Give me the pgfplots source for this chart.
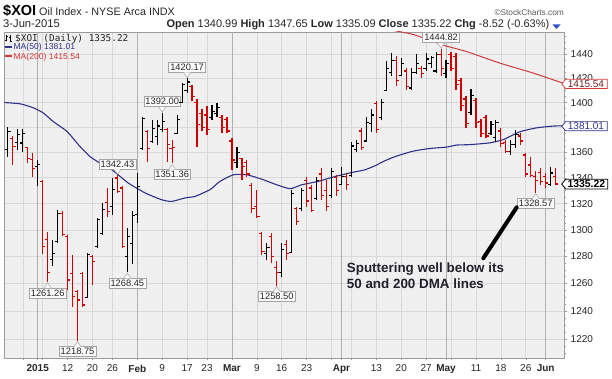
\documentclass[border=0pt]{standalone}
\usepackage{fontspec}
\setmainfont{Liberation Sans}
\newfontfamily\monofont{DejaVu Sans Mono}
\usepackage{pgfplots}
\pgfplotsset{compat=1.18}
\usepackage{pgfplotstable}

\definecolor{bg}{HTML}{F0F0F0}
\definecolor{gridc}{HTML}{D9D9D9}
\definecolor{monthc}{HTML}{B0B0B0}
\definecolor{framec}{HTML}{9C9C9C}
\definecolor{barred}{HTML}{D00000}
\definecolor{manavy}{HTML}{30308A}
\definecolor{mared}{HTML}{D03A3A}
\definecolor{lblborder}{HTML}{A4A4A4}
\definecolor{lblfill}{HTML}{FBFBFB}
\definecolor{txt}{HTML}{262626}
\definecolor{anno}{HTML}{20202E}
\definecolor{chgblue}{HTML}{3050C8}

\newcommand\fs[1]{\fontsize{#1}{#1}\selectfont}

\pgfdeclareplotmark{ltick}{\pgfpathmoveto{\pgfqpoint{-2.7pt}{0pt}}\pgfpathlineto{\pgfqpoint{0pt}{0pt}}\pgfusepathqstroke}
\pgfdeclareplotmark{rtick}{\pgfpathmoveto{\pgfqpoint{0pt}{0pt}}\pgfpathlineto{\pgfqpoint{2.7pt}{0pt}}\pgfusepathqstroke}

% up (black) bars: index, open, high, low, close
\pgfplotstableread{
i o h l c
-6 1362 1380.3 1356.7 1376.6
-4 1367.7 1378.6 1362 1374
-3 1367.4 1378.6 1360.6 1375
0 1348.8 1354 1333.3 1350.2
3 1278 1292.6 1272.6 1282
4 1291.2 1315 1290 1312.6
10 1250 1282.4 1249.3 1281.2
12 1287.5 1308.7 1286 1307.6
13 1297.5 1320.4 1296.2 1315.2
15 1317.8 1339.8 1311.4 1331
18 1280 1301.3 1268.45 1295
19 1290 1314 1274.3 1311
20 1311.4 1343.6 1305 1333
21 1363 1388.4 1362 1387.5
23 1368.6 1386.1 1367.4 1379.3
24 1372.6 1386.1 1366 1381
25 1378 1392 1376.6 1385
28 1375 1390 1374.5 1386
29 1400 1416.2 1399.6 1414.7
30 1410 1420.17 1408 1417
35 1388 1398 1386 1393
36 1391 1399.6 1388.7 1396
40 1352 1364.6 1347.6 1360
46 1282 1290 1277.5 1287
49 1268 1290 1265 1285
51 1283 1330.7 1282.4 1328
53 1316 1332 1314 1330
56 1324 1341 1323 1338
59 1326 1347.5 1324.4 1345
61 1335 1348.8 1334.6 1341
63 1342 1368.6 1341 1365
64 1362 1369.9 1360.6 1367
66 1369 1388.7 1368.6 1384
67 1383 1394.7 1376 1390
69 1388 1403 1386 1400
70 1410 1434 1409.5 1428
71 1425 1441 1422 1435
73 1422 1437 1421.7 1432
75 1412 1428.6 1410.7 1425
76 1425 1440 1423.4 1432
78 1428 1441 1426 1436
79 1432 1438.6 1428.7 1437
80 1426 1442 1424.4 1440
82 1424 1435.5 1420.3 1432
87 1392 1411 1390 1406
91 1375 1384.7 1374 1382
92 1372 1386 1368.6 1384
95 1361 1370 1358 1366
96 1366 1378 1363.3 1374
103 1335 1348.8 1333.3 1343.74
}\upbars

% down (red) bars
\pgfplotstableread{
i o h l c
-5 1371 1373 1350.2 1364.6
-2 1363.8 1364.6 1351.5 1355.4
-1 1354.6 1359.4 1341 1347.5
1 1337 1338.5 1281.8 1287.5
2 1293 1298.7 1261.26 1268
5 1312.6 1314 1295 1296.2
6 1295 1296.2 1255.3 1262.6
7 1267.6 1281.2 1243.2 1250.5
8 1254 1255.3 1218.75 1248
9 1267.6 1268.8 1243.2 1244.4
11 1280 1281.2 1259 1276
14 1321 1332 1310 1314
16 1339.8 1342.43 1328.3 1329.5
17 1332 1333.3 1286 1287.5
22 1376.6 1378 1352.7 1363.3
26 1378 1379.3 1352.7 1366
27 1363.3 1369.6 1351.36 1364
31 1413.3 1414.7 1401 1405
32 1400 1403 1364.6 1382
33 1391 1395 1377 1380
34 1390 1397 1374 1378
37 1388 1390 1375.3 1380
38 1386 1388.7 1375.3 1377
39 1369 1371.4 1346.4 1354
41 1355 1355.4 1338.4 1349
42 1352 1354 1341 1343
43 1334 1336 1312.6 1316
44 1318 1330.7 1308.7 1310
45 1297 1298.7 1281.2 1284
47 1295 1297.5 1275 1280
48 1272 1276.3 1258.5 1268
50 1289 1292.5 1277.5 1282
52 1316 1317.8 1303.8 1306
54 1338 1341 1317.8 1322
55 1332 1334.6 1313.9 1315
57 1343 1347.5 1323 1326
58 1330 1338 1314 1318
60 1340 1342.3 1325.5 1330
62 1341 1343.6 1330.7 1335
65 1377 1379.3 1362 1364
68 1399 1401 1375.3 1378
72 1435 1438.6 1413.4 1418
74 1426 1428.6 1410.7 1413
77 1428 1430 1420.3 1424
81 1440 1444.82 1422 1428
83 1440 1442 1426 1428
84 1438 1441 1410.7 1415
85 1418 1420.3 1393 1398
86 1403 1405.3 1379.6 1383
88 1402 1404 1379.6 1384
89 1385 1387 1372.6 1375
90 1388 1390 1371.3 1373
93 1377 1379.3 1364.6 1367
94 1368 1370 1359.4 1361
97 1373 1375.3 1366 1369
98 1358 1359.4 1341 1343
99 1350 1356.7 1341 1342
100 1341 1345 1328.57 1338
101 1344 1347.6 1334.6 1337
102 1341 1343.6 1332 1336
104 1340.99 1347.65 1335.09 1335.22
}\downbars

\tikzset{lbl/.style={draw=lblborder, fill=lblfill, line width=0.5pt, inner xsep=1.6pt, inner ysep=1.7pt, font=\fs{9.3}, text=txt}}

\newcommand\lowlbl[3]{%
  \node[lbl, anchor=north, yshift=-5.8pt] at (axis cs:#1,#2) {#3};
  \fill[lblfill] (axis cs:#1,#2) ++(0pt,-1.2pt) -- ++(-3.6pt,-5.1pt) -- ++(7.2pt,0pt) -- cycle;
  \draw[lblborder, line width=0.5pt] (axis cs:#1,#2) ++(-3.6pt,-6.1pt) -- ++(3.6pt,4.9pt) -- ++(3.6pt,-4.9pt);
}
\newcommand\highlbl[3]{%
  \node[lbl, anchor=south, yshift=5.6pt] at (axis cs:#1,#2) {#3};
  \fill[lblfill] (axis cs:#1,#2) ++(0pt,0.6pt) -- ++(-3.6pt,5.1pt) -- ++(7.2pt,0pt) -- cycle;
  \draw[lblborder, line width=0.5pt] (axis cs:#1,#2) ++(-3.6pt,5.5pt) -- ++(3.6pt,-4.9pt) -- ++(3.6pt,4.9pt);
}

\begin{document}
\begin{tikzpicture}[x=1pt,y=1pt]
\useasboundingbox (0,0) rectangle (612,378);

\begin{axis}[
  at={(4.3pt,20pt)}, anchor=south west,
  scale only axis, width=560.4pt, height=326pt,
  xmin=-6.71, xmax=105.82,
  ymode=log, ymin=1206.6, ymax=1458.9,
  axis background/.style={fill=bg},
  axis line style={draw=framec, line width=0.6pt},
  xmajorgrids=true, ymajorgrids=true,
  major grid style={draw=gridc, line width=0.55pt},
  ytick={1220,1240,1260,1280,1300,1320,1340,1360,1380,1400,1420,1440},
  yticklabels={1220,1240,1260,1280,1300,1320,1340,1360,,1400,1420,1440},
  minor ytick={1210,1215,1225,1230,1235,1245,1250,1255,1265,1270,1275,1285,1290,1295,1305,1310,1315,1325,1330,1335,1345,1350,1355,1365,1370,1375,1385,1390,1395,1405,1410,1415,1425,1430,1435,1445,1450,1455},
  ytick pos=right, yticklabel pos=right,
  yticklabel style={font=\fs{10}, text=txt, anchor=west},
  xtick={-3,1,6,11,15,25,30,34,44,49,54,59,63,68,73,78,83,88,93,98},
  xticklabels={,,12,20,26,9,17,23,9,16,23,,,13,20,27,,11,18,26},
  extra x ticks={0,20,39,61,82,102},
  extra x tick labels={\textbf{2015},\textbf{Feb},\textbf{Mar},\textbf{Apr},\textbf{May},\textbf{Jun}},
  extra x tick style={grid=major, major grid style={draw=monthc, line width=0.6pt}},
  minor xtick={-6,...,104},
  xtick pos=bottom,
  xticklabel style={font=\fs{10}, text=txt, yshift=-1pt},
  tick align=outside,
  major tick length=2.5pt, minor tick length=1.6pt,
  tick style={draw=framec, line width=0.5pt},
  clip=true,
]

% moving averages
\addplot[manavy, line width=1.1pt, smooth, tension=0.35, no markers] coordinates {
(-6.71,1400.1) (-3.5,1399) (-0.9,1395.8) (1.1,1391.7) (3.1,1384.7) (5.9,1376.6)
(8.5,1364.6) (10.5,1356.7) (12.5,1351.5) (14.9,1346.3) (18.2,1335.9) (21.6,1328.2)
(24.9,1323) (26.9,1321.7) (29.6,1324.4) (31.6,1325.6) (34.6,1330.8) (36.6,1337.2)
(39.3,1342.4) (42.0,1342.4) (45.3,1338.5) (48.0,1334.6) (50.7,1331.5) (53.0,1334.6)
(56.3,1337.2) (59.7,1341) (63.1,1344.2) (65.7,1346.3) (67.7,1349.4) (69.7,1353.4)
(72.1,1357.1) (75.4,1361) (78.8,1363.1) (82.1,1364.2) (84.1,1365.8) (86.8,1366.2)
(90.8,1367.6) (93.5,1370.2) (96.8,1376.4) (100.2,1379.6) (103.5,1381) (105.82,1381.2)
};
\addplot[mared, line width=1.0pt, smooth, tension=0.35, no markers] coordinates {
(66.0,1466) (68.7,1462.4) (75.4,1456.7) (81.4,1447.7) (86.1,1442.3) (92.8,1432.6)
(99.5,1424.3) (105.82,1415.54)
};

% OHLC bars: black (up)
\addplot[black, only marks, mark=rtick, mark options={solid, line width=1.2pt},
  error bars/.cd, y dir=both, y explicit, error mark=none,
  error bar style={line width=1.2pt, draw=black}]
  table[x=i, y=c, y error plus expr=\thisrow{h}-\thisrow{c}, y error minus expr=\thisrow{c}-\thisrow{l}] {\upbars};
\addplot[black, only marks, mark=ltick, mark options={solid, line width=1.2pt}]
  table[x=i, y=o] {\upbars};
% OHLC bars: red (down)
\addplot[barred, only marks, mark=rtick, mark options={solid, line width=1.2pt},
  error bars/.cd, y dir=both, y explicit, error mark=none,
  error bar style={line width=1.2pt, draw=barred}]
  table[x=i, y=c, y error plus expr=\thisrow{h}-\thisrow{c}, y error minus expr=\thisrow{c}-\thisrow{l}] {\downbars};
\addplot[barred, only marks, mark=ltick, mark options={solid, line width=1.2pt}]
  table[x=i, y=o] {\downbars};

% price call-outs
\lowlbl{2}{1261.26}{1261.26}
\lowlbl{8}{1218.75}{1218.75}
\lowlbl{18}{1268.45}{1268.45}
\lowlbl{27}{1351.36}{1351.36}
\lowlbl{48}{1258.5}{1258.50}
\lowlbl{100}{1328.57}{1328.57}
\highlbl{16}{1342.43}{1342.43}
\highlbl{25}{1392}{1392.00}
\highlbl{30}{1420.17}{1420.17}
\highlbl{81}{1444.82}{1444.82}

\coordinate (c200) at (axis cs:105.82,1415.54);
\coordinate (c50) at (axis cs:105.82,1381.01);
\coordinate (ccl) at (axis cs:105.82,1335.22);
\end{axis}

% right-hand value tags
\draw[mared, fill=white, line width=0.7pt] ([xshift=-3pt]c200) -- ++(4pt,4.6pt) -- ++(41.5pt,0) -- ++(0,-9.2pt) -- ++(-41.5pt,0) -- cycle;
\node[anchor=west, inner sep=0pt, font=\fs{10}, text=mared!55!black] at ([xshift=3pt]c200) {1415.54};
\draw[manavy, fill=white, line width=0.7pt] ([xshift=-3pt]c50) -- ++(4pt,4.6pt) -- ++(41.5pt,0) -- ++(0,-9.2pt) -- ++(-41.5pt,0) -- cycle;
\node[anchor=west, inner sep=0pt, font=\fs{10}, text=manavy] at ([xshift=3pt]c50) {1381.01};
\draw[black, fill=white, line width=0.8pt] ([xshift=-3pt]ccl) -- ++(4pt,4.8pt) -- ++(42pt,0) -- ++(0,-9.6pt) -- ++(-42pt,0) -- cycle;
\node[anchor=west, inner sep=0pt, font=\bfseries\fs{10.4}, text=black] at ([xshift=2.6pt]ccl) {1335.22};

% header
\node[anchor=base west, inner sep=0pt, font=\bfseries\fs{14.5}, text=black] at (3,362) {\$XOI};
\node[anchor=base west, inner sep=0pt, font=\fs{10.8}, text=txt] at (39,362) {Oil Index - NYSE Arca INDX};
\node[anchor=base east, inner sep=0pt, font=\fs{8.3}, text=black!65] at (564,362) {\textcopyright StockCharts.com};
\node[anchor=base west, inner sep=0pt, font=\fs{11.2}, text=txt] at (3,350) {3-Jun-2015};
\node[anchor=base east, inner sep=0pt, font=\fs{11}, text=txt] at (549.5,350) {\textbf{Open} 1340.99 \textbf{High} 1347.65 \textbf{Low} 1335.09 \textbf{Close} 1335.22 \textbf{Chg} -8.52 (-0.63\%)};
\fill[chgblue] (552.5,353.5) -- (560.5,353.5) -- (556.5,349) -- cycle;

% legend (inside plot, top left)
\draw[black, line width=0.6pt] (6.5,336.5) -- (6.5,342.5) (5,338) -- (6.5,338) (6.5,341.5) -- (8,341.5);
\draw[black, line width=0.6pt] (10.5,335.5) -- (10.5,343) (9,341) -- (10.5,341) (10.5,337) -- (12,337);
\node[anchor=base west, inner sep=0pt, font=\monofont\fs{9.4}, text=txt] at (15,336.5) {\$XOI (Daily) 1335.22};
\draw[manavy, line width=1.8pt] (4.5,331) -- (12,331);
\node[anchor=base west, inner sep=0pt, font=\fs{8.6}, text=manavy] at (13.3,328.3) {MA(50) 1381.01};
\draw[mared, line width=1.8pt] (4.5,321.7) -- (12,321.7);
\node[anchor=base west, inner sep=0pt, font=\fs{8.6}, text=mared] at (13.3,318.6) {MA(200) 1415.54};

% annotation
\node[anchor=base west, inner sep=0pt, font=\bfseries\fs{13.4}, text=anno] at (346.7,105.2) {Sputtering well below its};
\node[anchor=base west, inner sep=0pt, font=\bfseries\fs{13.4}, text=anno] at (346.7,89.4) {50 and 200 DMA lines};
\draw[black, line width=4pt, line cap=round] (483.3,119.7) -- (516.7,170.7);
\end{tikzpicture}
\end{document}
